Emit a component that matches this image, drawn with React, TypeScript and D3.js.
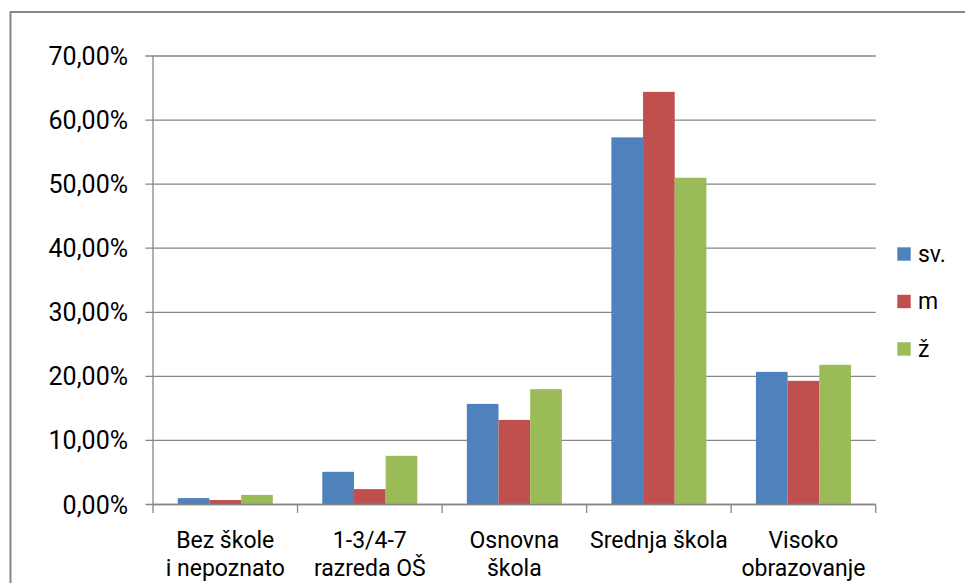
import React from "react";
import * as d3 from "d3";

const categories = [
  ["Bez škole", "i nepoznato"],
  ["1-3/4-7", "razreda OŠ"],
  ["Osnovna", "škola"],
  ["Srednja škola"],
  ["Visoko", "obrazovanje"],
];
const seriesNames = ["sv.", "m", "ž"];
const sv = [1.0, 5.1, 15.7, 57.3, 20.7];
const m = [0.7, 2.4, 13.2, 64.4, 19.3];
const z = [1.5, 7.6, 18.0, 51.0, 21.8];
const yTicks = [0, 10, 20, 30, 40, 50, 60, 70];
const colors = ["#4F81BD", "#C0504D", "#9BBB59"];

const W = 965;
const H = 583;
const FONT = "Roboto, 'Open Sans', sans-serif";

export default function App() {
  const series = [sv, m, z];
  const left = 153;
  const right = 875.7;
  const top = 56;
  const bottom = 504.5;
  const idx = categories.map((_, i) => String(i));
  const x = d3.scaleBand().domain(idx).range([left, right]).paddingInner(0.3426).paddingOuter(0.1713);
  const xs = d3.scaleBand().domain(seriesNames).range([0, x.bandwidth()]);
  const y = d3.scaleLinear().domain([0, 70]).range([bottom, top]);
  const step = (right - left) / categories.length;
  const fmt = (v: number) => v.toFixed(2).replace(".", ",") + "%";
  const grid = "#868686";

  return (
    <svg width={W} height={H} style={{ position: "absolute", left: 0, top: 0, background: "#fff" }}>
      <rect x={10.5} y={12} width={W + 20} height={H + 20} fill="#fff" stroke={grid} strokeWidth={2} />
      {yTicks.map((t) => (
        <g key={t}>
          <line x1={145.5} x2={right} y1={y(t)} y2={y(t)} stroke={grid} strokeWidth={1.3} />
          <text x={128} y={y(t)} dy="0.36em" textAnchor="end" fontFamily={FONT} fontSize={25} fill="#000">
            {fmt(t)}
          </text>
        </g>
      ))}
      <line x1={left} x2={left} y1={top} y2={bottom} stroke={grid} strokeWidth={1.3} />
      {d3.range(categories.length + 1).map((i) => (
        <line key={i} x1={left + i * step} x2={left + i * step} y1={bottom} y2={513} stroke={grid} strokeWidth={1.3} />
      ))}
      {categories.map((_, ci) =>
        series.map((s, si) => (
          <rect
            key={ci + "-" + si}
            x={(x(String(ci)) as number) + (xs(seriesNames[si]) as number)}
            y={y(s[ci])}
            width={xs.bandwidth()}
            height={bottom - y(s[ci])}
            fill={colors[si]}
          />
        ))
      )}
      <line x1={left} x2={right} y1={bottom} y2={bottom} stroke={grid} strokeWidth={1.3} />
      {categories.map((lines, ci) => (
        <text
          key={ci}
          x={(x(String(ci)) as number) + x.bandwidth() / 2}
          y={548.3}
          textAnchor="middle"
          fontFamily={FONT}
          fontSize={23}
          fill="#000"
        >
          {lines.map((l, li) => (
            <tspan key={li} x={(x(String(ci)) as number) + x.bandwidth() / 2} dy={li === 0 ? 0 : 28}>
              {l}
            </tspan>
          ))}
        </text>
      ))}
      {seriesNames.map((n, i) => (
        <g key={n} transform={`translate(0, ${i * 47.5})`}>
          <rect x={897.3} y={247.3} width={13.4} height={13.4} fill={colors[i]} />
          <text x={918} y={261.5} fontFamily={FONT} fontSize={23} fill="#000">
            {n}
          </text>
        </g>
      ))}
    </svg>
  );
}
